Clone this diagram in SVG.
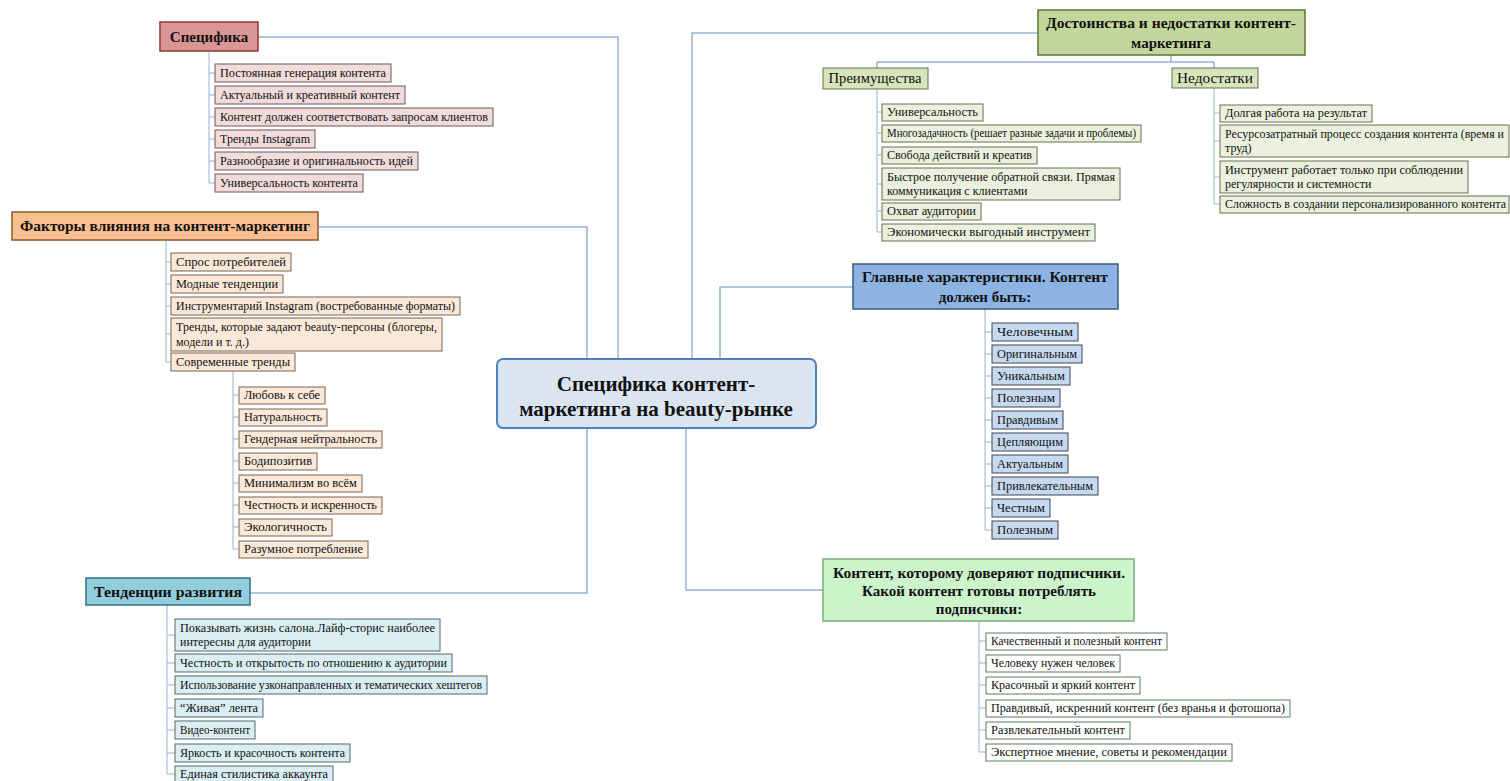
<svg xmlns="http://www.w3.org/2000/svg" width="1510" height="781" viewBox="0 0 1510 781">
<style>
text{font-family:"Liberation Serif","Times New Roman",serif;fill:#111}
.c{font-size:12px}
.h{font-size:15px;font-weight:bold}
.m{text-anchor:middle}
.conn{fill:none;stroke:#95b3d7;stroke-width:1.5}
.sub{fill:none;stroke:#95b3d7;stroke-width:1}
.pk{fill:#f2dcdb;stroke:#6f5858;stroke-width:1}
.or{fill:#fde9d9;stroke:#7a6454;stroke-width:1}
.tl{fill:#daeef3;stroke:#55666b;stroke-width:1}
.gr{fill:#ebf1de;stroke:#66704f;stroke-width:1}
.bl{fill:#c6d9f1;stroke:#3c4656;stroke-width:1}
.wh{fill:#ffffff;stroke:#5d7a5d;stroke-width:1}
</style>
<rect width="1510" height="781" fill="#ffffff"/>
<g id="connectors">
<path class="conn" d="M258,37 H618 V359"/>
<path class="conn" d="M318,227 H587 V359"/>
<path class="conn" d="M250,593 H587 V428"/>
<path class="conn" d="M692,359 V33 H1038"/>
<path class="conn" d="M720,359 V287 H853"/>
<path class="conn" d="M686,428 V590 H823"/>
<path class="conn" d="M1171,55 V62 M877,62 H1214 M877,62 V68 M1214,62 V68"/>
<path class="sub" d="M209,51 V183 M209,73 H215 M209,95 H215 M209,117 H215 M209,139 H215 M209,161 H215 M209,183 H215"/>
<path class="sub" d="M166,240 V362 M166,262 H171 M166,284 H171 M166,306 H171 M166,334 H171 M166,362 H171"/>
<path class="sub" d="M233,371 V549 M233,395 H239 M233,417 H239 M233,439 H239 M233,461 H239 M233,483 H239 M233,505 H239 M233,527 H239 M233,549 H239"/>
<path class="sub" d="M167,605 V774 M167,635 H175 M167,663 H175 M167,685 H175 M167,708 H175 M167,730 H175 M167,753 H175 M167,774 H175"/>
<path class="sub" d="M877,89 V232 M877,112 H882 M877,133 H882 M877,155 H882 M877,184 H882 M877,211 H882 M877,232 H882"/>
<path class="sub" d="M1214,88 V204 M1214,113 H1220 M1214,141 H1220 M1214,177 H1220 M1214,204 H1220"/>
<path class="sub" d="M985,309 V530 M985,332 H992 M985,354 H992 M985,376 H992 M985,398 H992 M985,420 H992 M985,442 H992 M985,464 H992 M985,486 H992 M985,508 H992 M985,530 H992"/>
<path class="sub" d="M979,621 V752 M979,641 H986 M979,663 H986 M979,685 H986 M979,708 H986 M979,730 H986 M979,752 H986"/>
</g>
<g id="center">
<rect x="497" y="359" width="319" height="69" rx="6" fill="#dbe5f1" stroke="#4f81bd" stroke-width="2"/>
<text class="m" x="656" y="391" font-size="21" font-weight="bold" fill="#1a1a1a">Специфика контент-</text>
<text class="m" x="656" y="416" font-size="21" font-weight="bold" fill="#1a1a1a">маркетинга на beauty-рынке</text>
</g>
<g id="specifika">
<rect x="160" y="22" width="98" height="29" fill="#d99694" stroke="#953735" stroke-width="1.5"/>
<text class="h m" x="209" y="42">Специфика</text>
</g>
<g id="specifika-items">
<rect class="pk" x="215" y="64" width="176" height="18"/><text class="c" x="220" y="77" textLength="166" lengthAdjust="spacingAndGlyphs">Постоянная генерация контента</text>
<rect class="pk" x="215" y="86" width="190" height="18"/><text class="c" x="220" y="99" textLength="180" lengthAdjust="spacingAndGlyphs">Актуальный и креативный контент</text>
<rect class="pk" x="215" y="108" width="278" height="18"/><text class="c" x="220" y="121" textLength="268" lengthAdjust="spacingAndGlyphs">Контент должен соответствовать запросам клиентов</text>
<rect class="pk" x="215" y="130" width="100" height="18"/><text class="c" x="220" y="143" textLength="90" lengthAdjust="spacingAndGlyphs">Тренды Instagram</text>
<rect class="pk" x="215" y="152" width="203" height="18"/><text class="c" x="220" y="165" textLength="193" lengthAdjust="spacingAndGlyphs">Разнообразие и оригинальность идей</text>
<rect class="pk" x="215" y="174" width="148" height="18"/><text class="c" x="220" y="187" textLength="138" lengthAdjust="spacingAndGlyphs">Универсальность контента</text>
</g>
<g id="factors">
<rect x="12" y="212" width="306" height="28" fill="#fabf8f" stroke="#8a5a33" stroke-width="1.5"/>
<text class="h m" x="165" y="231" textLength="290" lengthAdjust="spacingAndGlyphs">Факторы влияния на контент-маркетинг</text>
</g>
<g id="factors-items">
<rect class="or" x="171" y="253" width="120" height="18"/><text class="c" x="176" y="266" textLength="110" lengthAdjust="spacingAndGlyphs">Спрос потребителей</text>
<rect class="or" x="171" y="275" width="112" height="18"/><text class="c" x="176" y="288" textLength="102" lengthAdjust="spacingAndGlyphs">Модные тенденции</text>
<rect class="or" x="171" y="297" width="289" height="18"/><text class="c" x="176" y="310" textLength="279" lengthAdjust="spacingAndGlyphs">Инструментарий Instagram (востребованные форматы)</text>
<rect class="or" x="171" y="318" width="271" height="33"/><text class="c" x="176" y="331" textLength="261" lengthAdjust="spacingAndGlyphs">Тренды, которые задают beauty-персоны (блогеры,</text><text class="c" x="176" y="346">модели и т. д.)</text>
<rect class="or" x="171" y="353" width="124" height="18"/><text class="c" x="176" y="366" textLength="114" lengthAdjust="spacingAndGlyphs">Современные тренды</text>
</g>
<g id="modern-trends-items">
<rect class="or" x="239" y="387" width="86" height="17"/><text class="c" x="244" y="399" textLength="76" lengthAdjust="spacingAndGlyphs">Любовь к себе</text>
<rect class="or" x="239" y="409" width="88" height="17"/><text class="c" x="244" y="421" textLength="78" lengthAdjust="spacingAndGlyphs">Натуральность</text>
<rect class="or" x="239" y="431" width="143" height="17"/><text class="c" x="244" y="443" textLength="133" lengthAdjust="spacingAndGlyphs">Гендерная нейтральность</text>
<rect class="or" x="239" y="453" width="78" height="17"/><text class="c" x="244" y="465" textLength="68" lengthAdjust="spacingAndGlyphs">Бодипозитив</text>
<rect class="or" x="239" y="475" width="123" height="17"/><text class="c" x="244" y="487" textLength="113" lengthAdjust="spacingAndGlyphs">Минимализм во всём</text>
<rect class="or" x="239" y="497" width="143" height="17"/><text class="c" x="244" y="509" textLength="133" lengthAdjust="spacingAndGlyphs">Честность и искренность</text>
<rect class="or" x="239" y="519" width="93" height="17"/><text class="c" x="244" y="531" textLength="83" lengthAdjust="spacingAndGlyphs">Экологичность</text>
<rect class="or" x="239" y="541" width="129" height="17"/><text class="c" x="244" y="553" textLength="119" lengthAdjust="spacingAndGlyphs">Разумное потребление</text>
</g>
<g id="tendencies">
<rect x="86" y="578" width="164" height="27" fill="#92cddc" stroke="#31708a" stroke-width="1.5"/>
<text class="h m" x="168" y="597" textLength="148" lengthAdjust="spacingAndGlyphs">Тенденции развития</text>
</g>
<g id="tendencies-items">
<rect class="tl" x="175" y="619" width="265" height="32"/><text class="c" x="180" y="632" textLength="255" lengthAdjust="spacingAndGlyphs">Показывать жизнь салона.Лайф-сторис наиболее</text><text class="c" x="180" y="646">интересны для аудитории</text>
<rect class="tl" x="175" y="654" width="277" height="18"/><text class="c" x="180" y="667" textLength="267" lengthAdjust="spacingAndGlyphs">Честность и открытость по отношению к аудитории</text>
<rect class="tl" x="175" y="676" width="312" height="18"/><text class="c" x="180" y="689" textLength="302" lengthAdjust="spacingAndGlyphs">Использование узконаправленных и тематических  хештегов</text>
<rect class="tl" x="175" y="699" width="88" height="18"/><text class="c" x="180" y="712" textLength="78" lengthAdjust="spacingAndGlyphs">“Живая” лента</text>
<rect class="tl" x="175" y="721" width="80" height="18"/><text class="c" x="180" y="734" textLength="70" lengthAdjust="spacingAndGlyphs">Видео-контент</text>
<rect class="tl" x="175" y="744" width="175" height="18"/><text class="c" x="180" y="757" textLength="165" lengthAdjust="spacingAndGlyphs">Яркость и красочность контента</text>
<rect class="tl" x="175" y="766" width="158" height="17"/><text class="c" x="180" y="778" textLength="148" lengthAdjust="spacingAndGlyphs">Единая стилистика аккаунта</text>
</g>
<g id="pros-cons">
<rect x="1038" y="10" width="267" height="45" fill="#c3d69b" stroke="#5f7530" stroke-width="1.5"/>
<text class="h m" x="1171" y="28" font-size="14.5" textLength="250" lengthAdjust="spacingAndGlyphs">Достоинства и недостатки контент-</text>
<text class="h m" x="1171" y="48" font-size="14.5">маркетинга</text>
</g>
<g id="advantages">
<rect x="823" y="68" width="105" height="21" fill="#d7e4bc" stroke="#66704f" stroke-width="1"/>
<text class="m" x="875" y="83" font-size="14" textLength="93" lengthAdjust="spacingAndGlyphs">Преимущества</text>
</g>
<g id="advantages-items">
<rect class="gr" x="882" y="104" width="101" height="17"/><text class="c" x="887" y="116" textLength="91" lengthAdjust="spacingAndGlyphs">Универсальность</text>
<rect class="gr" x="882" y="125" width="259" height="17"/><text class="c" x="887" y="137" textLength="249" lengthAdjust="spacingAndGlyphs">Многозадачность (решает разные задачи и проблемы)</text>
<rect class="gr" x="882" y="147" width="155" height="17"/><text class="c" x="887" y="159" textLength="145" lengthAdjust="spacingAndGlyphs">Свобода действий и креатив</text>
<rect class="gr" x="882" y="168" width="238" height="32"/><text class="c" x="887" y="181" textLength="228" lengthAdjust="spacingAndGlyphs">Быстрое получение обратной связи. Прямая</text><text class="c" x="887" y="195">коммуникация с клиентами</text>
<rect class="gr" x="882" y="203" width="99" height="17"/><text class="c" x="887" y="215" textLength="89" lengthAdjust="spacingAndGlyphs">Охват аудитории</text>
<rect class="gr" x="882" y="224" width="213" height="17"/><text class="c" x="887" y="236" textLength="203" lengthAdjust="spacingAndGlyphs">Экономически выгодный инструмент</text>
</g>
<g id="disadvantages">
<rect x="1172" y="68" width="86" height="20" fill="#d7e4bc" stroke="#66704f" stroke-width="1"/>
<text class="m" x="1215" y="83" font-size="14" textLength="76" lengthAdjust="spacingAndGlyphs">Недостатки</text>
</g>
<g id="disadvantages-items">
<rect class="gr" x="1220" y="105" width="152" height="17"/><text class="c" x="1225" y="117" textLength="142" lengthAdjust="spacingAndGlyphs">Долгая работа на результат</text>
<rect class="gr" x="1220" y="125" width="289" height="32"/><text class="c" x="1225" y="138" textLength="279" lengthAdjust="spacingAndGlyphs">Ресурсозатратный процесс создания контента (время и</text><text class="c" x="1225" y="152">труд)</text>
<rect class="gr" x="1220" y="161" width="248" height="32"/><text class="c" x="1225" y="174" textLength="238" lengthAdjust="spacingAndGlyphs">Инструмент работает только при соблюдении</text><text class="c" x="1225" y="188">регулярности и системности</text>
<rect class="gr" x="1220" y="196" width="289" height="17"/><text class="c" x="1225" y="208" textLength="281" lengthAdjust="spacingAndGlyphs">Сложность в создании персонализированного контента</text>
</g>
<g id="main-characteristics">
<rect x="853" y="264" width="265" height="45" fill="#8db3e2" stroke="#3a5a80" stroke-width="1.5"/>
<text class="h m" x="985" y="282" textLength="246" lengthAdjust="spacingAndGlyphs">Главные характеристики. Контент</text>
<text class="h m" x="985" y="302">должен быть:</text>
</g>
<g id="main-characteristics-items">
<rect class="bl" x="992" y="323" width="86" height="18"/><text class="c" x="997" y="336" textLength="76" lengthAdjust="spacingAndGlyphs">Человечным</text>
<rect class="bl" x="992" y="345" width="90" height="18"/><text class="c" x="997" y="358" textLength="80" lengthAdjust="spacingAndGlyphs">Оригинальным</text>
<rect class="bl" x="992" y="367" width="78" height="18"/><text class="c" x="997" y="380" textLength="68" lengthAdjust="spacingAndGlyphs">Уникальным</text>
<rect class="bl" x="992" y="389" width="68" height="18"/><text class="c" x="997" y="402" textLength="58" lengthAdjust="spacingAndGlyphs">Полезным</text>
<rect class="bl" x="992" y="411" width="71" height="18"/><text class="c" x="997" y="424" textLength="61" lengthAdjust="spacingAndGlyphs">Правдивым</text>
<rect class="bl" x="992" y="433" width="76" height="18"/><text class="c" x="997" y="446" textLength="66" lengthAdjust="spacingAndGlyphs">Цепляющим</text>
<rect class="bl" x="992" y="455" width="76" height="18"/><text class="c" x="997" y="468" textLength="66" lengthAdjust="spacingAndGlyphs">Актуальным</text>
<rect class="bl" x="992" y="477" width="106" height="18"/><text class="c" x="997" y="490" textLength="96" lengthAdjust="spacingAndGlyphs">Привлекательным</text>
<rect class="bl" x="992" y="499" width="58" height="18"/><text class="c" x="997" y="512" textLength="48" lengthAdjust="spacingAndGlyphs">Честным</text>
<rect class="bl" x="992" y="521" width="66" height="18"/><text class="c" x="997" y="534" textLength="56" lengthAdjust="spacingAndGlyphs">Полезным</text>
</g>
<g id="trusted-content">
<rect x="823" y="559" width="311" height="62" fill="#ccf5cc" stroke="#7fa97f" stroke-width="1.5"/>
<text class="h m" x="979" y="578" font-size="14.5" fill="#1c3a1c" textLength="292" lengthAdjust="spacingAndGlyphs">Контент, которому доверяют подписчики.</text>
<text class="h m" x="979" y="596" font-size="14.5" fill="#1c3a1c">Какой контент готовы потреблять</text>
<text class="h m" x="979" y="614" font-size="14.5" fill="#1c3a1c">подписчики:</text>
</g>
<g id="trusted-content-items">
<rect class="wh" x="986" y="633" width="181" height="17"/><text class="c" x="991" y="645" textLength="171" lengthAdjust="spacingAndGlyphs">Качественный и полезный контент</text>
<rect class="wh" x="986" y="655" width="134" height="17"/><text class="c" x="991" y="667" textLength="124" lengthAdjust="spacingAndGlyphs">Человеку нужен человек</text>
<rect class="wh" x="986" y="677" width="154" height="17"/><text class="c" x="991" y="689" textLength="144" lengthAdjust="spacingAndGlyphs">Красочный и яркий контент</text>
<rect class="wh" x="986" y="700" width="304" height="17"/><text class="c" x="991" y="712" textLength="294" lengthAdjust="spacingAndGlyphs">Правдивый, искренний контент (без вранья и фотошопа)</text>
<rect class="wh" x="986" y="722" width="144" height="17"/><text class="c" x="991" y="734" textLength="134" lengthAdjust="spacingAndGlyphs">Развлекательный контент</text>
<rect class="wh" x="986" y="744" width="246" height="17"/><text class="c" x="991" y="756" textLength="236" lengthAdjust="spacingAndGlyphs">Экспертное мнение, советы и рекомендации</text>
</g>
</svg>
